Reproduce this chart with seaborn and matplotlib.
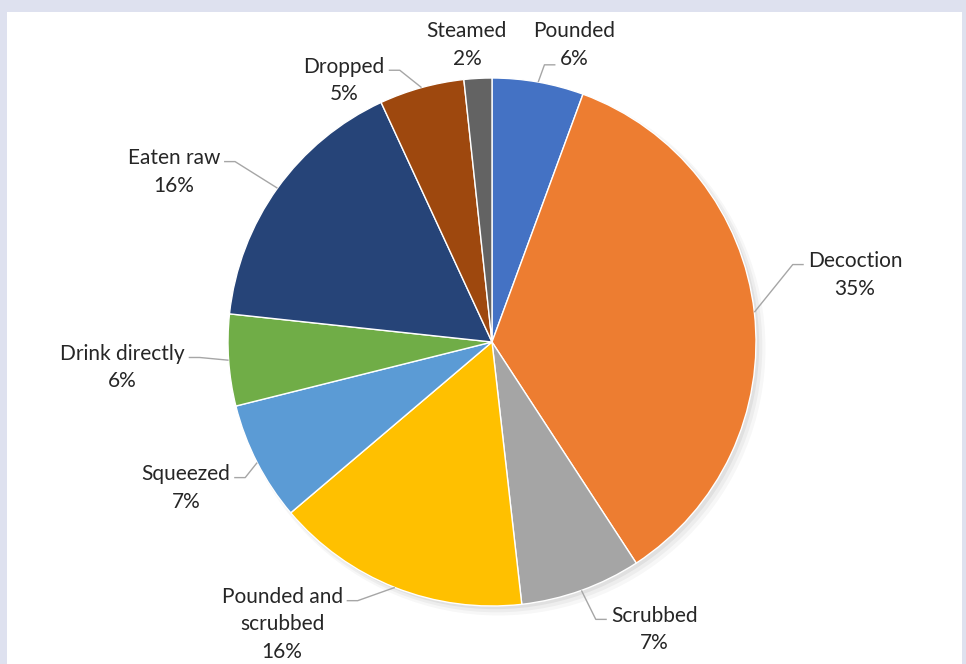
import numpy as np
import matplotlib
matplotlib.use("Agg")
import matplotlib.pyplot as plt
from matplotlib.patches import Rectangle
import seaborn as sns

# Data (share of preparation methods, clockwise from 12 o'clock)
methods = ["Pounded", "Decoction", "Scrubbed", "Pounded and\nscrubbed", "Squeezed",
           "Drink directly", "Eaten raw", "Dropped", "Steamed"]
shares = [5.6, 35.2, 7.4, 15.6, 7.3, 5.6, 16.4, 5.2, 1.7]
colors = ["#4472C4", "#ED7D31", "#A5A5A5", "#FFC000", "#5B9BD5",
          "#70AD47", "#264478", "#9E480E", "#636363"]

# label centres in pie-radius units, and where the leader meets the label box (x, y fraction)
label_pos = [(0.31, 1.125), (1.375, 0.254), (0.614, -1.09), (-0.795, -1.07), (-1.16, -0.553),
             (-1.40, -0.098), (-1.205, 0.644), (-0.56, 0.99), (-0.095, 1.125)]
label_rel = [(0.3, 0.08), (0.0, 0.72), (0.0, 0.72), (1.0, 0.82), (1.0, 0.72),
             (1.0, 0.72), (1.0, 0.72), (1.0, 0.72), None]

sns.set_theme(style="white")
plt.rcParams["font.family"] = ["Lato", "DejaVu Sans"]

W, H = 966, 664
cx, cy, R = 492, 342, 264
fig = plt.figure(figsize=(W / 100, H / 100), dpi=100)
fig.patch.set_facecolor("#dee1ef")

ax = fig.add_axes([0, 0, 1, 1])
ax.axis("off")
ax.patch.set_alpha(0)

# white chart area
ax.add_patch(Rectangle((7 / W, 0), (962 - 7) / W, (H - 12) / H, transform=fig.transFigure,
                       facecolor="white", edgecolor="none", zorder=-5))

# soft shadow behind the pie
for i, a in enumerate([0.05, 0.04, 0.03]):
    ax.add_patch(plt.Circle((0.012 + 0.006 * i, -0.012 - 0.006 * i), 1.0 + 0.006 * i,
                            color="black", alpha=a, lw=0, zorder=-1))

wedges, _ = ax.pie(shares, colors=colors, startangle=90, counterclock=False, radius=1.0,
                   wedgeprops=dict(edgecolor="white", linewidth=1.0))

ax.set_xlim(-cx / R, (W - cx) / R)
ax.set_ylim(-(H - cy) / R, cy / R)
ax.set_aspect("equal")

total = sum(shares)
texts = []
for name, val, pos in zip(methods, shares, label_pos):
    t = ax.text(pos[0], pos[1], f"{name}\n{val / total * 100:.0f}%", ha="center", va="center",
                fontsize=15, color="#262626", linespacing=1.45)
    texts.append(t)

# leader lines: pie edge at mid-angle -> elbow -> label
fig.canvas.draw()
renderer = fig.canvas.get_renderer()
inv = ax.transData.inverted()
px = 1 / R
for w, t, rel in zip(wedges, texts, label_rel):
    if rel is None:
        continue
    mid = np.deg2rad((w.theta1 + w.theta2) / 2)
    edge = np.array([np.cos(mid), np.sin(mid)])
    bb = t.get_window_extent(renderer)
    (x0, y0), (x1, y1) = inv.transform([[bb.x0, bb.y0], [bb.x1, bb.y1]])
    ax_ = x0 + rel[0] * (x1 - x0)
    ay_ = y0 + rel[1] * (y1 - y0)
    side = -1 if ax_ > edge[0] else 1
    if rel[0] in (0.0, 1.0):
        ax_ += side * 4 * px
    else:
        ax_ += side * 2 * px
    elbow = (ax_ + side * 11 * px, ay_)
    ax.plot([edge[0], elbow[0], ax_], [edge[1], elbow[1], ay_], color="#a6a6a6", lw=1.0,
            solid_capstyle="butt", zorder=3)

fig.savefig("out.png", dpi=100)
